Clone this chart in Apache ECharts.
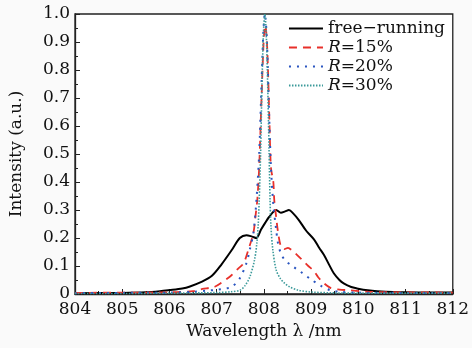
<!DOCTYPE html>
<html><head><meta charset="utf-8">
<script src="https://cdn.jsdelivr.net/npm/echarts@6/dist/echarts.min.js"></script>
<style>html,body{margin:0;padding:0;background:#fafafa}#c{width:472px;height:348px}</style>
</head><body><div id="c"></div>
<script>
const xTicks = [804,805,806,807,808,809,810,811,812];
const seriesNames = ['free\u2212running','R=15%','R=20%','R=30%'];

const frWl = [804,805,805.5,805.8,806.0,806.27,806.42,806.69,806.9,807.1,807.32,807.49,807.63,807.75,807.84,807.94,808.03,808.11,808.26,808.36,808.45,808.53,808.62,808.74,808.9,809.06,809.17,809.27,809.38,809.48,809.6,809.69,809.85,809.97,810.2,810.4,811,812];
const frI  = [0.003,0.004,0.006,0.01,0.014,0.02,0.026,0.044,0.065,0.105,0.157,0.2,0.21,0.205,0.2,0.23,0.255,0.275,0.30,0.29,0.295,0.30,0.288,0.264,0.225,0.195,0.165,0.14,0.105,0.074,0.05,0.038,0.025,0.02,0.013,0.01,0.006,0.005];

const r15Wl = [804,805,806,806.5,806.7,806.85,806.96,807.1,807.2,807.32,807.45,807.57,807.67,807.78,807.82,807.86,807.9,807.95,808.0,808.03,808.07,808.12,808.15,808.2,808.22,808.26,808.3,808.36,808.43,808.51,808.6,808.7,808.82,808.94,809.06,809.15,809.24,809.41,809.6,809.83,810.2,811,812];
const r15I  = [0.004,0.005,0.006,0.01,0.018,0.022,0.026,0.04,0.052,0.068,0.09,0.11,0.157,0.22,0.275,0.335,0.45,0.7,0.92,0.96,0.88,0.6,0.45,0.40,0.335,0.275,0.22,0.17,0.16,0.165,0.155,0.14,0.12,0.1,0.082,0.06,0.043,0.022,0.016,0.013,0.008,0.006,0.005];

const r20Wl = [804,805,806,806.5,806.8,807.0,807.2,807.32,807.49,807.63,807.7,807.78,807.84,807.9,807.95,807.99,808.02,808.06,808.1,808.15,808.2,808.26,808.3,808.36,808.45,808.57,808.7,808.82,808.99,809.2,809.4,809.6,810,811,812];
const r20I  = [0.003,0.004,0.005,0.008,0.012,0.015,0.02,0.025,0.056,0.11,0.157,0.22,0.33,0.5,0.75,0.94,1.0,0.92,0.7,0.45,0.32,0.23,0.18,0.145,0.12,0.104,0.088,0.074,0.053,0.03,0.014,0.008,0.005,0.004,0.004];

const r30Wl = [804,805,806,807,807.3,807.5,807.6,807.7,807.8,807.85,807.88,807.9,807.93,807.96,807.99,808.02,808.05,808.08,808.11,808.13,808.15,808.19,808.26,808.35,808.43,808.55,808.72,809.0,809.5,810,811,812];
const r30I  = [0.002,0.002,0.003,0.005,0.008,0.014,0.03,0.06,0.12,0.18,0.25,0.33,0.5,0.75,0.93,1.0,0.93,0.75,0.51,0.34,0.24,0.157,0.086,0.055,0.04,0.025,0.014,0.007,0.004,0.003,0.003,0.003];

const zip = (a,b)=>a.map((v,i)=>[v,b[i]]);
const FONT = 'DejaVu Serif';
const chart = echarts.init(document.getElementById('c'));
const mk = (name, wl, I, color, type, width) => ({
  name, type:'line', data: zip(wl,I), showSymbol:false, symbol:'none', smooth:0.3,
  lineStyle:{color, type, width}, itemStyle:{color}
});
chart.setOption({
  animation:false,
  backgroundColor:'#fafafa',
  grid:{left:71.5,right:18,top:14,bottom:54,show:true,backgroundColor:'#ffffff',borderColor:'#222',borderWidth:1.3},
  legend:{
    right:22, top:15, orient:'vertical', itemGap:2, itemWidth:34, itemHeight:19,
    data:seriesNames,
    itemStyle:{opacity:0},
    textStyle:{fontFamily:FONT,fontSize:17,color:'#111',rich:{it:{fontStyle:'italic',fontFamily:FONT,fontSize:17,color:'#111'}}},
    formatter:n=> n.startsWith('R=') ? '{it|R}' + n.slice(1) : n
  },
  xAxis:{type:'value',min:804,max:812,interval:1,
    name:'Wavelength \u03bb /nm',nameLocation:'middle',nameGap:29,
    nameTextStyle:{fontFamily:FONT,fontSize:17,color:'#111'},
    axisLine:{lineStyle:{color:'#222',width:1.3}},
    axisTick:{inside:true,length:5,lineStyle:{color:'#222'}},
    minorTick:{show:true,splitNumber:2,length:3,lineStyle:{color:'#222'}},
    splitLine:{show:false},
    axisLabel:{fontFamily:FONT,fontSize:17,color:'#111',margin:7,formatter:v=>String(v)}
  },
  yAxis:{type:'value',min:0,max:1,interval:0.1,
    name:'Intensity (a.u.)',nameLocation:'middle',nameGap:50,nameRotate:90,
    nameTextStyle:{fontFamily:FONT,fontSize:17,color:'#111'},
    axisLine:{show:true,lineStyle:{color:'#222',width:1.3}},
    axisTick:{show:true,inside:true,length:5,lineStyle:{color:'#222'}},
    minorTick:{show:true,splitNumber:2,length:3,lineStyle:{color:'#222'}},
    splitLine:{show:false},
    axisLabel:{fontFamily:FONT,fontSize:17,color:'#111',margin:5,formatter:v=> v===0?'0':v.toFixed(1)}
  },
  series:[
    mk(seriesNames[0],frWl,frI,'#000000','solid',2),
    mk(seriesNames[1],r15Wl,r15I,'#e8302a',[8,6],1.8),
    mk(seriesNames[2],r20Wl,r20I,'#2a55c0',[2,6],2),
    mk(seriesNames[3],r30Wl,r30I,'#3b9a9a',[1.5,1.5],1.6)
  ]
});
</script></body></html>
